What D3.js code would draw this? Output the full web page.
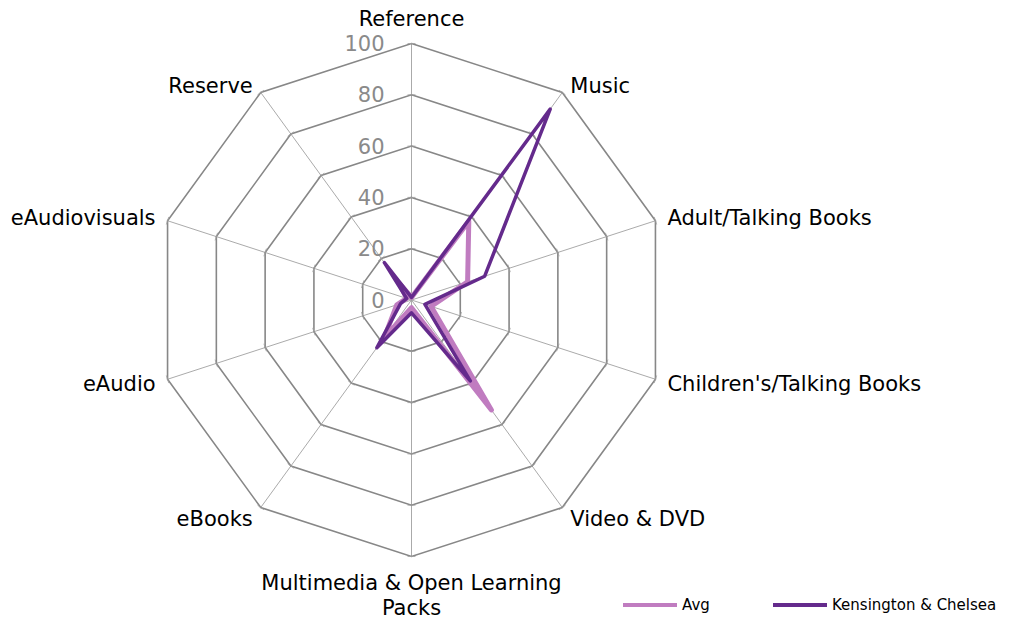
<!DOCTYPE html>
<html>
<head>
<meta charset="utf-8">
<script src="https://cdn.jsdelivr.net/npm/d3@7"></script>
<style>
  html, body { margin: 0; padding: 0; background: #fff; }
  svg { display: block; font-family: "DejaVu Sans", Verdana, sans-serif; }
</style>
</head>
<body>
<svg id="chart" width="1010" height="621"></svg>
<script>
const categories = ["Reference", "Music", "Adult/Talking Books", "Children's/Talking Books",
  "Video & DVD", "Multimedia & Open Learning Packs", "eBooks", "eAudio", "eAudiovisuals", "Reserve"];
const avgValues = [1, 38, 23, 8, 53, 3, 18, 6, 2, 8];
const kcValues  = [1, 92, 30, 5.5, 39, 5, 23, 4.5, 2, 18];
const ringTicks = [0, 20, 40, 60, 80, 100];
const seriesNames = ["Avg", "Kensington & Chelsea"];
const seriesColors = ["#c07cc0", "#642a8c"];

const svg = d3.select("#chart");
const cx = 411.5, cy = 300;
const r = d3.scaleLinear().domain([0, 100]).range([0, 256.5]);
const ang = d3.scaleLinear().domain([0, categories.length]).range([0, 2 * Math.PI]);

const g = svg.append("g").attr("transform", `translate(${cx},${cy})`);
const pt = (i, v) => [Math.sin(ang(i)) * r(v), -Math.cos(ang(i)) * r(v)];

// spokes
g.selectAll("line.spoke").data(categories).join("line")
  .attr("class", "spoke")
  .attr("x1", 0).attr("y1", 0)
  .attr("x2", (d, i) => pt(i, 100)[0]).attr("y2", (d, i) => pt(i, 100)[1])
  .attr("stroke", "#a0a0a0").attr("stroke-width", 0.9);

// rings
const ringLine = d3.lineRadial().angle((d, i) => ang(i)).radius(d => r(d)).curve(d3.curveLinearClosed);
g.selectAll("path.ring").data(ringTicks.filter(t => t > 0)).join("path")
  .attr("class", "ring")
  .attr("d", t => ringLine(categories.map(() => t)))
  .attr("fill", "none").attr("stroke", "#878787").attr("stroke-width", 1.6);

// small tick marks at ring vertices
const tickData = [];
ringTicks.filter(t => t > 0).forEach(t => categories.forEach((c, i) => tickData.push({t, i})));
g.selectAll("line.tick").data(tickData).join("line")
  .attr("class", "tick")
  .each(function(d) {
    const a = ang(d.i);
    const [x, y] = pt(d.i, d.t);
    const px = Math.cos(a) * 4, py = Math.sin(a) * 4;
    d3.select(this).attr("x1", x - px).attr("y1", y - py).attr("x2", x + px).attr("y2", y + py);
  })
  .attr("stroke", "#a0a0a0").attr("stroke-width", 0.8);

// ring labels
g.selectAll("text.rlab").data(ringTicks).join("text")
  .attr("class", "rlab")
  .attr("x", -27).attr("y", t => -r(t))
  .attr("dy", "0.36em")
  .attr("text-anchor", "end")
  .attr("font-size", 21).attr("fill", "#8a8a8a")
  .text(t => t);

// series
const seriesLine = d3.lineRadial().angle((d, i) => ang(i)).radius(d => r(d)).curve(d3.curveLinearClosed);
const series = [avgValues, kcValues];
g.selectAll("path.series").data(series).join("path")
  .attr("class", "series")
  .attr("d", d => seriesLine(d))
  .attr("fill", "none")
  .attr("stroke", (d, i) => seriesColors[i])
  .attr("stroke-width", (d, i) => i === 0 ? 5 : 3.5)
  .attr("stroke-linejoin", "round");

// category labels
const labelPos = [
  {dx: 0, dy: -25, anchor: "middle"},
  {dx: 8, dy: -7, anchor: "start"},
  {dx: 12, dy: -3, anchor: "start"},
  {dx: 12, dy: 4, anchor: "start"},
  {dx: 8, dy: 11, anchor: "start"},
  {dx: 0, dy: 26, anchor: "middle"},
  {dx: -8, dy: 11, anchor: "end"},
  {dx: -12, dy: 4, anchor: "end"},
  {dx: -12, dy: -3, anchor: "end"},
  {dx: -8, dy: -7, anchor: "end"}
];
categories.forEach((c, i) => {
  const [x, y] = pt(i, 100);
  const p = labelPos[i];
  const t = g.append("text")
    .attr("x", x + p.dx).attr("y", y + p.dy)
    .attr("text-anchor", p.anchor)
    .attr("dy", "0.36em")
    .attr("font-size", 21).attr("fill", "#000");
  if (c === "Multimedia & Open Learning Packs") {
    t.append("tspan").attr("x", x + p.dx).text("Multimedia & Open Learning");
    t.append("tspan").attr("x", x + p.dx).attr("dy", "1.2em").text("Packs");
  } else {
    t.text(c);
  }
});

// legend
const legendX = [623, 773];
const legend = svg.append("g");
seriesNames.forEach((name, i) => {
  legend.append("line")
    .attr("x1", legendX[i]).attr("x2", legendX[i] + 54)
    .attr("y1", 605).attr("y2", 605)
    .attr("stroke", seriesColors[i]).attr("stroke-width", 4);
  legend.append("text")
    .attr("x", legendX[i] + 59).attr("y", 605).attr("dy", "0.36em")
    .attr("font-size", 15).attr("fill", "#000")
    .text(name);
});
</script>
</body>
</html>
